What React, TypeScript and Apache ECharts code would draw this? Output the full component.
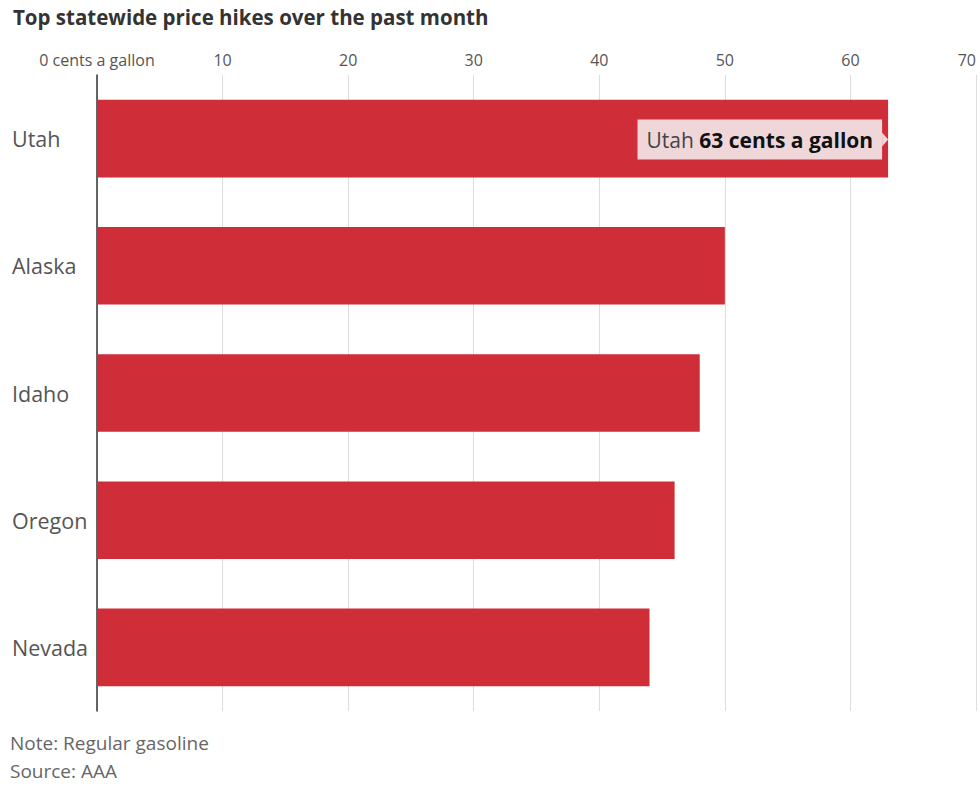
import React, { useEffect, useRef } from "react";
import * as echarts from "echarts";

const titleText = "Top statewide price hikes over the past month";
const categories = ["Utah", "Alaska", "Idaho", "Oregon", "Nevada"];
const values = [63, 50, 48, 46, 44];
const unitSuffix = "cents a gallon";
const highlightIndex = 0;
const noteLines = ["Note: Regular gasoline", "Source: AAA"];

const FONT = "'Open Sans', 'Noto Sans', sans-serif";

export default function App() {
  const ref = useRef<HTMLDivElement>(null);
  useEffect(() => {
    if (!ref.current) return;
    const chart = echarts.init(ref.current, null, { renderer: "svg" });
    const data = values.map((v, i) =>
      i === highlightIndex
        ? {
            value: v,
            label: {
              show: true,
              position: "insideRight",
              distance: 6,
              offset: [0, 1],
              formatter: `{a|${categories[i]} }{b|${v} ${unitSuffix}}`,
              backgroundColor: "#efd7d9",
              padding: [10, 9, 9, 9],
              rich: {
                a: { fontSize: 21, color: "#444", fontFamily: FONT },
                b: { fontSize: 21, color: "#111", fontWeight: "bold", fontFamily: FONT },
              },
            },
          }
        : v
    );
    const notes = noteLines.map((t, i) => ({
      type: "text",
      left: 10,
      top: 733 + i * 28,
      style: { text: t, fill: "#666", fontSize: 19, fontFamily: FONT },
    }));
    chart.setOption({
      animation: false,
      textStyle: { fontFamily: FONT },
      title: {
        text: titleText,
        left: 8,
        top: 1,
        textStyle: { fontSize: 20.5, fontWeight: "bold", color: "#333", fontFamily: FONT },
      },
      grid: { left: 97, right: 1, top: 75, height: 636, containLabel: false },
      xAxis: {
        type: "value",
        position: "top",
        min: 0,
        max: 70,
        interval: 10,
        axisLine: { show: false },
        axisTick: { show: false },
        splitLine: { show: true, lineStyle: { color: "#dddddd", width: 1 } },
        axisLabel: {
          color: "#555",
          fontSize: 16,
          margin: 7,
          fontFamily: FONT,
          alignMaxLabel: "right",
          formatter: (v: number) => (v === 0 ? `0 ${unitSuffix}` : String(v)),
        },
      },
      yAxis: {
        type: "category",
        data: categories,
        inverse: true,
        axisLine: { show: true, lineStyle: { color: "#333", width: 1.5 } },
        axisTick: { show: false },
        axisLabel: {
          color: "#555",
          fontSize: 21.5,
          align: "left",
          margin: 85,
          padding: [3, 0, 0, 0],
          fontFamily: FONT,
        },
      },
      series: [
        {
          type: "bar",
          data,
          barCategoryGap: "39%",
          itemStyle: { color: "#cf2d37" },
          z: 3,
        },
      ],
      graphic: notes,
    });
    const p = chart.convertToPixel({ seriesIndex: 0 }, [values[highlightIndex], highlightIndex]) as number[];
    if (p) {
      const ax = p[0] - 6;
      const ay = p[1] + 1;
      chart.setOption({
        graphic: [
          ...notes,
          {
            type: "polygon",
            z: 100,
            shape: { points: [[ax, ay - 7], [ax + 6, ay], [ax, ay + 7]] },
            style: { fill: "#efd7d9" },
          },
        ],
      });
    }
    return () => chart.dispose();
  }, []);
  return (
    <div
      ref={ref}
      style={{ position: "fixed", left: 0, top: 0, width: 979, height: 787, background: "#fff" }}
    />
  );
}
